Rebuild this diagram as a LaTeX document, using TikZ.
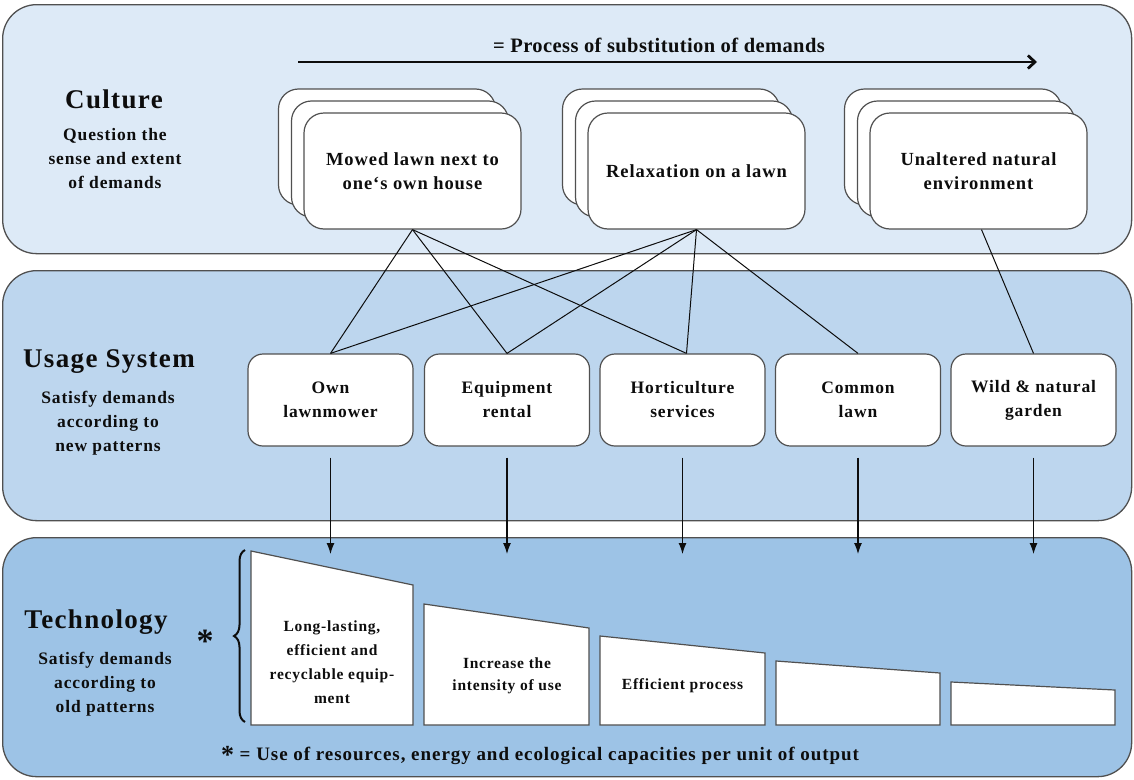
\documentclass[tikz,border=0pt]{standalone}
\usepackage{fontspec}
\setmainfont{Liberation Serif}[LetterSpace=5]
\newfontfamily\tightserif{Liberation Serif}[LetterSpace=2]
\usetikzlibrary{arrows.meta,decorations.pathreplacing}

\definecolor{cultureblue}{HTML}{DDEAF7}
\definecolor{usageblue}{HTML}{BDD6EE}
\definecolor{techblue}{HTML}{9DC3E6}
\definecolor{rim}{HTML}{505050}
\definecolor{ink}{HTML}{0D0D0D}

\newcommand{\fs}[2]{\fontsize{#1}{#2}\selectfont\bfseries}

\begin{document}
\begin{tikzpicture}[x=1pt,y=-1pt,
  band/.style={draw=rim, line width=1.3pt, rounded corners=34pt,
    anchor=north west, inner sep=0pt, minimum width=1129pt, minimum height=#1},
  title/.style={font=\fs{27}{30}, text=ink, inner sep=0pt},
  subtitle/.style={font=\fs{17.5}{24}, text=ink, align=center, inner sep=0pt},
  card/.style={draw=rim, fill=white, line width=1.2pt, rounded corners=20pt,
    minimum width=217pt, minimum height=116pt, align=center,
    font=\fs{18.5}{24}, text=ink},
  usebox/.style={draw=rim, fill=white, line width=1.2pt, rounded corners=15pt,
    minimum width=165pt, minimum height=92pt, align=center,
    font=\fs{17.5}{24}, text=ink},
  slab/.style={draw=rim, fill=white, line width=1.2pt},
  slabtext/.style={align=center, font=\fs{15.5}{24}, text=ink, inner sep=0pt},
  link/.style={draw=ink, line width=1pt},
  flow/.style={draw=ink, line width=1.1pt, -{Latex[length=11pt,width=8pt]}}
]
\useasboundingbox (0,0) rectangle (1134,779);

% three layers
\node[band=249pt, fill=cultureblue] (culture) at (2,4) {};
\node[band=250pt, fill=usageblue] (usage) at (2,270) {};
\node[band=239pt, fill=techblue] (tech) at (2,537) {};

% layer titles
\node[title] (ctitle) at (114,99) {Culture};
\node[subtitle] (csub) at (115,159) {Question the\\sense and extent\\of demands};
\node[title] (utitle) at (109,362) {Usage System};
\node[subtitle] (usub) at (108,423) {Satisfy demands\\according to\\new patterns};
\node[title] (ttitle) at (96,622) {Technology};
\node[subtitle] (tsub) at (105,684) {Satisfy demands\\according to\\old patterns};

% substitution arrow
\coordinate (sstart) at (298,62);
\coordinate (send) at (1037,62);
\draw[ink, line width=2.8pt, -{Straight Barb[length=7pt,width=13pt]}] (sstart) -- (send);
\node[font=\tightserif\fs{20.5}{24}, text=ink] (slabel) at (659,45) {= Process of substitution of demands};

% demand cards (stacked)
\node[card] (c1b) at (387,147) {};
\node[card] (c1m) at (400,159) {};
\node[card] (c1) at (412.5,171) {Mowed lawn next to\\one‘s own house};
\node[card] (c2b) at (671,147) {};
\node[card] (c2m) at (684,159) {};
\node[card] (c2) at (696.5,171) {Relaxation on a lawn};
\node[card] (c3b) at (953,147) {};
\node[card] (c3m) at (966,159) {};
\node[card] (c3) at (978.5,171) {Unaltered natural\\environment};

% usage systems
\node[usebox] (u1) at (330.5,400) {Own\\lawnmower};
\node[usebox] (u2) at (507,400) {Equipment\\rental};
\node[usebox] (u3) at (682.5,400) {Horticulture\\services};
\node[usebox] (u4) at (858,400) {Common\\lawn};
\node[usebox] (u5) at (1033.5,400) {Wild \& natural\\garden};

% demand -> usage links
\draw[link] (c1.south) -- (u1.north);
\draw[link] (c1.south) -- (u2.north);
\draw[link] (c1.south) -- ([xshift=4pt]u3.north);
\draw[link] (c2.south) -- (u1.north);
\draw[link] (c2.south) -- (u2.north);
\draw[link] (c2.south) -- ([xshift=4pt]u3.north);
\draw[link] (c2.south) -- (u4.north);
\draw[link] ([xshift=3pt]c3.south) -- (u5.north);

% usage -> technology arrows
\foreach \i/\x in {1/330.5,2/507,3/682.5,4/858,5/1033.5}{
  \coordinate (t\i) at (\x,554);
  \draw[flow] ([yshift=-11pt]u\i.south) -- (t\i);
}

% technology slabs
\draw[slab] (251,725) -- (251,551) -- (413,585) -- (413,725) -- cycle;
\draw[slab] (424,725) -- (424,604) -- (589,628) -- (589,725) -- cycle;
\draw[slab] (600,725) -- (600,636) -- (765,653) -- (765,725) -- cycle;
\draw[slab] (776,725) -- (776,661) -- (940,673) -- (940,725) -- cycle;
\draw[slab] (951,725) -- (951,682) -- (1115,690) -- (1115,725) -- cycle;
\node[slabtext] (s1) at (332,662) {Long-lasting,\\efficient and\\recyclable equip-\\ment};
\node[slabtext, font=\fs{15.5}{22}] (s2) at (507,676) {Increase the\\intensity of use};
\node[slabtext] (s3) at (682.5,686) {Efficient process};

% brace and footnote
\draw[ink, line width=2pt, decorate, decoration={brace, amplitude=11pt}]
  (245,722) -- (245,550);
\node[font=\fs{34}{34}, text=ink, anchor=base, inner sep=0pt] (star) at (205,652) {*};
\node[font=\fs{19}{24}, text=ink, inner sep=0pt] (note) at (540,756)
  {{\fontsize{26}{24}\selectfont\raisebox{-3pt}{*}} = Use of resources, energy and ecological capacities per unit of output};
\end{tikzpicture}
\end{document}
